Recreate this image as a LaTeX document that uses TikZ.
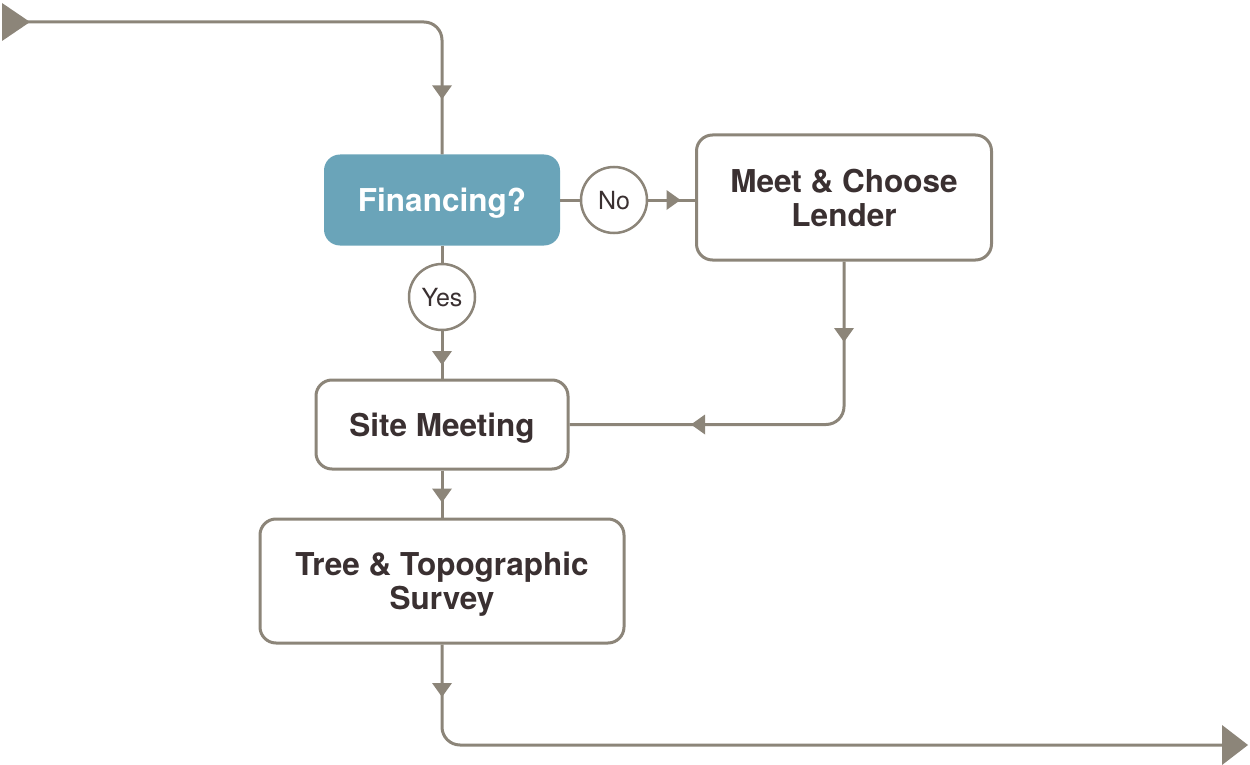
\documentclass[tikz,border=0pt]{standalone}
\usepackage{fontspec}
\setmainfont{TeX Gyre Heros}
\usetikzlibrary{arrows.meta,decorations.markings}
\definecolor{linec}{HTML}{8C8579}
\definecolor{finc}{HTML}{6AA4B9}
\definecolor{textc}{HTML}{3A3031}
\tikzset{
  conn/.style={draw=linec, color=linec, line width=3pt},
  midarrow/.style={postaction={decorate,decoration={markings,
      mark=at position #1 with {\arrow{Triangle[length=14pt,width=20pt,line width=0pt]}}}}},
  bigstart/.style={postaction={decorate,decoration={markings,
      mark=at position #1 with {\arrow{Triangle[length=28pt,width=38pt,line width=0pt]}}}}},
  box/.style={draw=linec, line width=3pt, rounded corners=16pt, fill=white,
      text=textc, font=\fontsize{31.5}{34}\selectfont\bfseries, align=center,
      inner sep=0pt, text depth=0pt},
  finbox/.style={fill=finc, rounded corners=16pt, text=white,
      font=\fontsize{31.5}{34}\selectfont\bfseries, align=center,
      inner sep=0pt, text depth=0pt},
  lbl/.style={circle, draw=linec, line width=2.5pt, fill=white, minimum size=66pt,
      inner sep=0pt, text=textc, font=\fontsize{25}{28}\selectfont, text depth=0pt},
}
\begin{document}
\begin{tikzpicture}[x=1pt,y=-1pt]
\useasboundingbox (0,0) rectangle (1250,765);
% nodes
\node[finbox, minimum width=236pt, minimum height=91pt] (fin) at (442,200) {Financing?};
\node[lbl] (no) at (614,200) {No};
\node[box, minimum width=295pt, minimum height=125pt] (meet) at (844,197.5) {Meet \& Choose\\Lender};
\node[lbl] (yes) at (442,297) {Yes};
\node[box, minimum width=252pt, minimum height=89pt] (site) at (442,424.5) {Site Meeting};
\node[box, minimum width=364pt, minimum height=124pt] (tree) at (442,581) {Tree \& Topographic\\Survey};
% coordinates
\coordinate (in) at (2,22);
\coordinate (c1) at (442,22);
\coordinate (out) at (1248,745);
% connectors
\draw[conn, rounded corners=18pt, bigstart=28pt, midarrow=-55pt] (in) -- (c1) -- (fin.north);
\draw[conn] (fin.south) -- (yes.north);
\draw[conn, midarrow=-13.5pt] (yes.south) -- (site.north);
\draw[conn] (fin.east) -- (no.west);
\draw[conn, midarrow=-14.5pt] (no.east) -- (no.east -| meet.west);
\draw[conn, rounded corners=18pt, midarrow=80.5pt, midarrow=-121.5pt] (meet.south) |- (site.east);
\draw[conn, midarrow=-15pt] (site.south) -- (tree.north);
\draw[conn, rounded corners=18pt, midarrow=52.5pt, -{Triangle[length=26pt,width=40pt,line width=0pt]}] (tree.south) |- (out);
\end{tikzpicture}
\end{document}
